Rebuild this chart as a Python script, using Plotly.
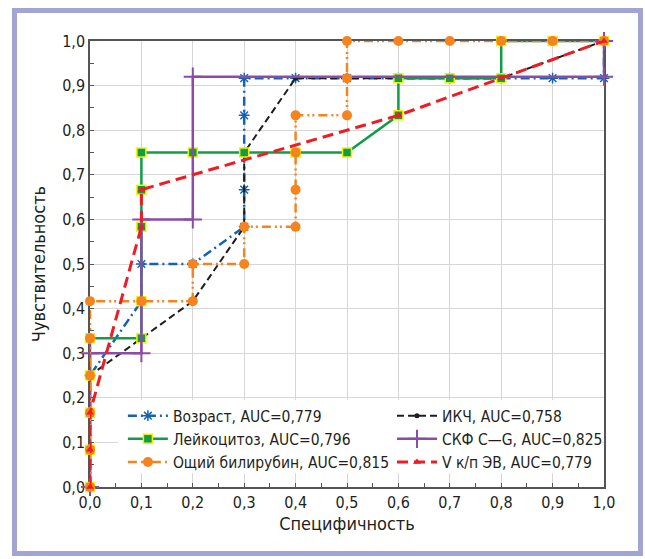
import plotly.graph_objects as go

# ROC curves: specificity axis (x) vs sensitivity (y)
age_x = [0.0, 0.0, 0.1, 0.1, 0.2, 0.3, 0.3, 0.3, 0.3, 0.4, 0.5, 0.6, 0.7, 0.8, 0.9, 1.0, 1.0]
age_y = [0.0, 0.25, 0.4167, 0.5, 0.5, 0.5833, 0.6667, 0.8333, 0.9167, 0.9167, 0.9167, 0.9167, 0.9167, 0.9167, 0.9167, 0.9167, 1.0]

ikch_x = [0.0, 0.0, 0.1, 0.2, 0.3, 0.3, 0.4, 0.5, 0.6, 0.7, 0.8, 1.0]
ikch_y = [0.0, 0.25, 0.3333, 0.4167, 0.5833, 0.75, 0.9167, 0.9167, 0.9167, 0.9167, 0.9167, 1.0]

leuko_x = [0.0, 0.0, 0.0, 0.0, 0.0, 0.1, 0.1, 0.1, 0.1, 0.1, 0.2, 0.3, 0.4, 0.5, 0.6, 0.6, 0.7, 0.8, 0.8, 0.9, 1.0]
leuko_y = [0.0, 0.0833, 0.1667, 0.25, 0.3333, 0.3333, 0.4167, 0.5833, 0.6667, 0.75, 0.75, 0.75, 0.75, 0.75, 0.8333, 0.9167, 0.9167, 0.9167, 1.0, 1.0, 1.0]

gfr_x = [0.0, 0.0, 0.1, 0.1, 0.2, 0.2, 1.0, 1.0]
gfr_y = [0.0, 0.3, 0.3, 0.6, 0.6, 0.92, 0.92, 1.0]

bili_x = [0.0, 0.0, 0.0, 0.0, 0.0, 0.0, 0.1, 0.2, 0.2, 0.3, 0.3, 0.4, 0.4, 0.4, 0.4, 0.5, 0.5, 0.5, 0.6, 0.7, 0.8, 0.9, 1.0]
bili_y = [0.0, 0.0833, 0.1667, 0.25, 0.3333, 0.4167, 0.4167, 0.4167, 0.5, 0.5, 0.5833, 0.5833, 0.6667, 0.75, 0.8333, 0.8333, 0.9167, 1.0, 1.0, 1.0, 1.0, 1.0, 1.0]

vev_x = [0.0, 0.0, 0.0, 0.1, 0.1, 0.6, 0.8, 1.0]
vev_y = [0.0, 0.0833, 0.1667, 0.5833, 0.6667, 0.8333, 0.9167, 1.0]

names = {
    "age": "Возраст, AUC=0,779",
    "ikch": "ИКЧ, AUC=0,758",
    "leuko": "Лейкоцитоз, AUC=0,796",
    "gfr": "СКФ C\u2014G, AUC=0,825",
    "bili": "Ощий билирубин, AUC=0,815",
    "vev": "V к/п ЭВ, AUC=0,779",
}

x_ticks = [0.0, 0.1, 0.2, 0.3, 0.4, 0.5, 0.6, 0.7, 0.8, 0.9, 1.0]
y_ticks = [0.0, 0.1, 0.2, 0.3, 0.4, 0.5, 0.6, 0.7, 0.8, 0.9, 1.0]

FONT = "Liberation Sans Narrow, DejaVu Sans Condensed, Arial Narrow, sans-serif"
TXT = "#231f20"

fig = go.Figure()

fig.add_trace(go.Scatter(
    x=age_x, y=age_y, name=names["age"], mode="lines+markers", legend="legend", legendrank=1,
    line=dict(color="#1562b4", width=2.5, dash="9px,4px,2px,4px"),
    marker=dict(symbol="asterisk-open", size=9, line=dict(color="#1562b4", width=1.5)),
    cliponaxis=False,
))
fig.add_trace(go.Scatter(
    x=ikch_x, y=ikch_y, name=names["ikch"], mode="lines+markers", legend="legend2", legendrank=4,
    line=dict(color="#1e1e1e", width=2, dash="7px,4px"),
    marker=dict(symbol="circle", size=5, color="#1e1e1e"),
    cliponaxis=False,
))
fig.add_trace(go.Scatter(
    x=leuko_x, y=leuko_y, name=names["leuko"], mode="lines+markers", legend="legend", legendrank=2,
    line=dict(color="#0f9d48", width=2.5),
    marker=dict(symbol="square", size=9, color="#0f9d48", line=dict(color="#f2f200", width=1.5)),
    cliponaxis=False,
))
fig.add_trace(go.Scatter(
    x=gfr_x, y=gfr_y, name=names["gfr"], mode="lines+markers", legend="legend2", legendrank=5,
    line=dict(color="#8b4ca5", width=2.5),
    marker=dict(symbol="cross-thin-open", size=13, line=dict(color="#8b4ca5", width=2)),
    cliponaxis=False,
))
fig.add_trace(go.Scatter(
    x=bili_x, y=bili_y, name=names["bili"], mode="lines+markers", legend="legend", legendrank=3,
    line=dict(color="#f5841f", width=2.5, dash="9px,4px,2px,3px,2px,4px"),
    marker=dict(symbol="circle", size=10, color="#f5841f"),
    cliponaxis=False,
))
fig.add_trace(go.Scatter(
    x=vev_x, y=vev_y, name=names["vev"], mode="lines+markers", legend="legend2", legendrank=6,
    line=dict(color="#ee1c25", width=3, dash="11px,6px"),
    marker=dict(symbol="triangle-up", size=7, color="#ee1c25"),
    cliponaxis=False,
))

axis_common = dict(
    range=[0, 1],
    showgrid=True, gridcolor="#d6d6d6", gridwidth=1,
    showline=True, linecolor="#555555", linewidth=1.5, mirror=True,
    ticks="inside", ticklen=4, tickcolor="#555555",
    minor=dict(ticks="inside", ticklen=4, dtick=0.05, tickcolor="#555555", showgrid=False),
    tickformat=".1f", zeroline=False, layer="below traces",
    tickfont=dict(family=FONT, size=16, color=TXT),
    fixedrange=True,
)

fig.update_xaxes(**axis_common, tickvals=x_ticks,
                 title=dict(text="Специфичность", font=dict(family=FONT, size=18, color=TXT), standoff=6))
fig.update_yaxes(**axis_common, tickvals=y_ticks,
                 title=dict(text="Чувствительность", font=dict(family=FONT, size=18, color=TXT), standoff=12))

legend_common = dict(
    orientation="v", yanchor="top", xanchor="left", y=0.197,
    bgcolor="rgba(0,0,0,0)", borderwidth=0,
    font=dict(family=FONT, size=15.5, color=TXT),
    itemwidth=40, tracegroupgap=0,
)

fig.update_layout(
    width=645, height=559,
    margin=dict(l=90, r=41, t=41, b=72),
    paper_bgcolor="white", plot_bgcolor="white",
    separators=", ",
    showlegend=True,
    legend=dict(**legend_common, x=0.064),
    legend2=dict(**legend_common, x=0.5875),
    shapes=[
        # white panel behind the legend entries
        dict(type="rect", xref="x", yref="y", x0=0.055, x1=0.997, y0=0.031, y1=0.195,
             fillcolor="white", line=dict(width=0), layer="above"),
        # lavender page border
        dict(type="rect", xref="paper", yref="paper",
             x0=(14.5 - 90) / 514, x1=(640.5 - 90) / 514,
             y0=(487 - 553.5) / 446, y1=(487 - 10.5) / 446,
             line=dict(color="#a3a3d4", width=5), fillcolor="rgba(0,0,0,0)", layer="below"),
    ],
)

fig.write_html("out.html")
